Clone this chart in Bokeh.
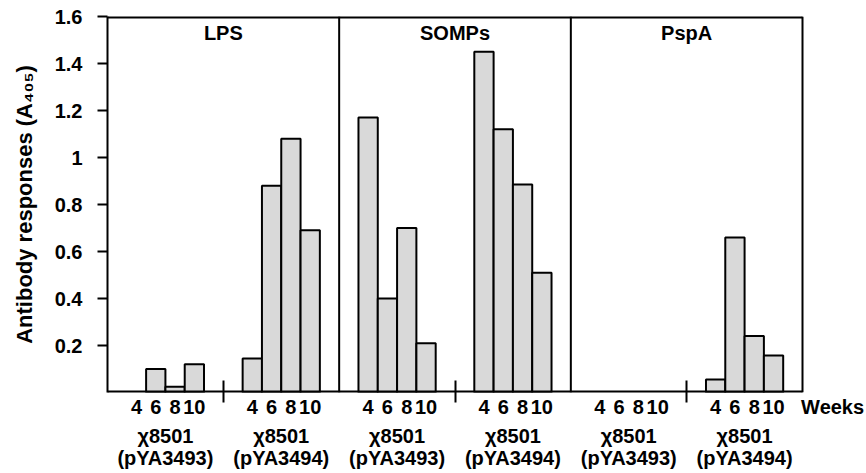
from bokeh.plotting import figure
from bokeh.models import (ColumnDataSource, FixedTicker, LinearAxis, Span,
                          CustomJSTickFormatter, Range1d)
from bokeh.core.properties import value
from bokeh.embed import file_html
from bokeh.resources import INLINE

# ---------------- data ----------------
panels = ["LPS", "SOMPs", "PspA"]
strains = ["χ8501", "χ8501"]
plasmids = ["(pYA3493)", "(pYA3494)"]
weeks = ["4", "6", "8", "10"]
x_unit_label = "Weeks"

lps_pYA3493 = [0.0, 0.10, 0.025, 0.12]
lps_pYA3494 = [0.145, 0.88, 1.08, 0.69]
somps_pYA3493 = [1.17, 0.40, 0.70, 0.21]
somps_pYA3494 = [1.45, 1.12, 0.885, 0.51]
pspa_pYA3493 = [0.0, 0.0, 0.0, 0.0]
pspa_pYA3494 = [0.055, 0.66, 0.24, 0.157]

groups = [lps_pYA3493, lps_pYA3494, somps_pYA3493, somps_pYA3494,
          pspa_pYA3493, pspa_pYA3494]
y_ticks = [0.2, 0.4, 0.6, 0.8, 1.0, 1.2, 1.4, 1.6]
y_max = 1.6

# ---------------- layout helpers ----------------
W, H = 866, 473
LEFT, RIGHT_BOX, TOP, BOTTOM = 107, 802, 16, 392

n_groups = len(groups)
n_bars = len(weeks)
bar_w = 1.0 / 6.0
offsets = [(k - (n_bars - 1) / 2) * bar_w for k in range(n_bars)]
x_end = n_groups * (W - LEFT) / (RIGHT_BOX - LEFT)

xs, tops = [], []
for g, vals in enumerate(groups):
    for k, v in enumerate(vals):
        if v > 0:
            xs.append(g + 0.5 + offsets[k])
            tops.append(v)
src = ColumnDataSource(dict(x=xs, top=tops))

bar_centers = [g + 0.5 + o for g in range(n_groups) for o in offsets]
weeks_pos = n_groups + 0.26
tick1_pos = bar_centers + [weeks_pos]
tick1_labels = weeks * n_groups + [x_unit_label]
group_centers = [g + 0.5 for g in range(n_groups)]
strain_labels = strains * len(panels)
plasmid_labels = plasmids * len(panels)
group_dividers = [2 * i + 1 for i in range(len(panels))]
panel_dividers = [2 * i for i in range(1, len(panels) + 1)]

FONT = "Liberation Sans"
FS = "20px"

p = figure(width=W, height=H, output_backend="svg", toolbar_location=None,
           x_range=Range1d(0, x_end), y_range=Range1d(0, y_max),
           min_border_left=LEFT, min_border_right=0, min_border_top=TOP,
           min_border_bottom=H - BOTTOM, x_axis_type=None)
p.grid.visible = False
p.outline_line_color = None
p.background_fill_color = "white"
p.border_fill_color = "white"

p.vbar(x="x", top="top", width=bar_w, bottom=0, source=src,
       fill_color="#d9d9d9", line_color="black", line_width=2)

# panel frame: top border, bottom axis line (half clipped at frame edge), dividers
p.segment(x0=[0, 0], x1=[n_groups, n_groups], y0=[y_max, 0], y1=[y_max, 0],
          line_color="black", line_width=4)
for loc in panel_dividers:
    p.add_layout(Span(location=loc, dimension="height", line_color="black", line_width=2))

# panel titles
p.text(x=group_dividers, y=[y_max - 0.072] * len(panels), text=panels,
       text_font=value(FONT), text_font_style="bold", text_font_size=FS,
       text_align="center", text_baseline="middle", text_color="black")

def lookup_formatter(pos, labs):
    return CustomJSTickFormatter(args=dict(pos=pos, labs=labs), code="""
        let best = 0;
        for (let i = 0; i < pos.length; i++) {
            if (Math.abs(pos[i] - tick) < Math.abs(pos[best] - tick)) best = i;
        }
        return labs[best];
    """)

def style_labels(ax):
    ax.major_label_text_font = FONT
    ax.major_label_text_font_style = "bold"
    ax.major_label_text_font_size = FS
    ax.major_label_text_color = "black"

# x axis: week labels + group divider ticks
ax1 = LinearAxis(ticker=FixedTicker(ticks=tick1_pos, minor_ticks=group_dividers),
                 formatter=lookup_formatter(tick1_pos, tick1_labels))
ax1.axis_line_color = None
ax1.major_tick_line_color = None
ax1.major_tick_out = 0
ax1.major_tick_in = 0
ax1.minor_tick_line_color = "black"
ax1.minor_tick_line_width = 2
ax1.minor_tick_out = 10
ax1.minor_tick_in = 12
ax1.major_label_standoff = -7
style_labels(ax1)
p.add_layout(ax1, "below")

def text_axis(labels, standoff):
    ax = LinearAxis(ticker=FixedTicker(ticks=group_centers, minor_ticks=[]),
                    formatter=lookup_formatter(group_centers, labels))
    ax.axis_line_color = None
    ax.major_tick_line_color = None
    ax.minor_tick_line_color = None
    ax.major_tick_out = 0
    ax.major_tick_in = 0
    ax.major_label_standoff = standoff
    style_labels(ax)
    return ax

p.add_layout(text_axis(strain_labels, 4), "below")
p.add_layout(text_axis(plasmid_labels, -3), "below")

# y axis
p.yaxis.ticker = FixedTicker(ticks=y_ticks, minor_ticks=[])
p.yaxis.formatter = CustomJSTickFormatter(code="""
    let s = tick.toFixed(1);
    if (s.endsWith('.0')) s = s.slice(0, -2);
    return s;
""")
p.yaxis.axis_line_width = 2
p.yaxis.major_tick_line_width = 2
p.yaxis.major_tick_out = 10
p.yaxis.major_tick_in = 0
p.yaxis.minor_tick_line_color = None
p.yaxis.major_label_standoff = 15
style_labels(p.yaxis[0])
p.yaxis.axis_label = "Antibody responses (A₄₀₅)"
p.yaxis.axis_label_text_font = FONT
p.yaxis.axis_label_text_font_style = "bold"
p.yaxis.axis_label_text_font_size = "22px"
p.yaxis.axis_label_text_color = "black"
p.yaxis.axis_label_standoff = 15

open("out.html", "w").write(file_html(p, INLINE))
